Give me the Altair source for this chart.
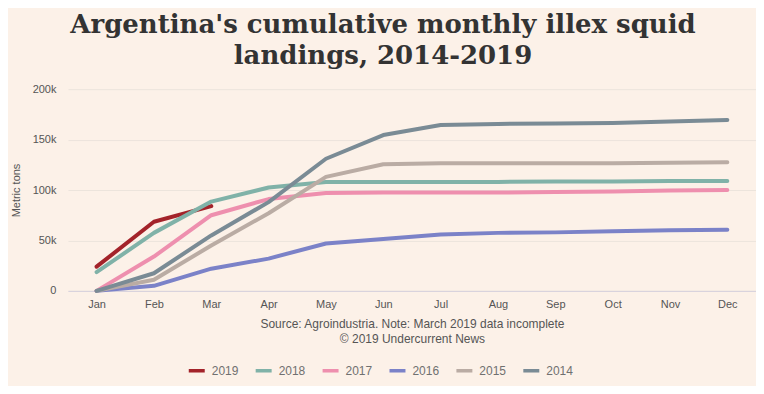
import altair as alt
import pandas as pd

months = ["Jan", "Feb", "Mar", "Apr", "May", "Jun", "Jul", "Aug", "Sep", "Oct", "Nov", "Dec"]
years = ["2019", "2018", "2017", "2016", "2015", "2014"]
colors = ["#A3232A", "#80B2A8", "#EE8FAE", "#7B82C8", "#BAACA4", "#7A8B95"]

s2019 = [24000, 68500, 84000]
s2018 = [18500, 57500, 88500, 102500, 108000, 108000, 108000, 108000, 108500, 108500, 109000, 109000]
s2017 = [0, 34000, 75000, 91000, 97000, 97500, 97500, 97500, 98000, 98500, 99500, 100000]
s2016 = [0, 5000, 22000, 32000, 47000, 51500, 56000, 57500, 58000, 59000, 60000, 60500]
s2015 = [0, 11000, 45000, 77000, 113000, 125500, 126500, 126500, 126500, 126500, 127000, 127500]
s2014 = [0, 17500, 55000, 88000, 131000, 154500, 164500, 165500, 166000, 166500, 168000, 169500]

series = {"2019": s2019, "2018": s2018, "2017": s2017, "2016": s2016, "2015": s2015, "2014": s2014}
rows = []
for y, vals in series.items():
    for i, v in enumerate(vals):
        rows.append({"month": months[i], "year": y, "value": v, "ord": years.index(y)})
df = pd.DataFrame(rows)

chart = alt.Chart(df).mark_line(strokeWidth=4, strokeCap="round", strokeJoin="round").encode(
    x=alt.X("month:N", sort=months,
            scale=alt.Scale(type="point", padding=0.5),
            axis=alt.Axis(title=["Source: Agroindustria. Note: March 2019 data incomplete",
                                 "© 2019 Undercurrent News"],
                          titleFont="Liberation Sans", titleFontSize=12, titleFontWeight="normal",
                          titleColor="#555555", titlePadding=9, titleLineHeight=15,
                          labelFont="Liberation Sans", labelFontSize=11, labelColor="#555555",
                          labelAngle=0, labelPadding=8, ticks=False, domain=True,
                          domainColor="#d6d0dc", grid=False)),
    y=alt.Y("value:Q", scale=alt.Scale(domain=[0, 200000]),
            axis=alt.Axis(title="Metric tons", values=[0, 50000, 100000, 150000, 200000],
                          labelExpr="datum.value == 0 ? '0' : format(datum.value / 1000, 'd') + 'k'",
                          titleFont="Liberation Sans", titleFontSize=11, titleFontWeight="normal",
                          titleColor="#555555", titlePadding=11,
                          labelFont="Liberation Sans", labelFontSize=11, labelColor="#555555",
                          labelPadding=12, ticks=False, domain=False,
                          gridColor="#ece4dc", gridWidth=1)),
    color=alt.Color("year:N", scale=alt.Scale(domain=years, range=colors),
                    legend=alt.Legend(title=None, orient="none", direction="horizontal",
                                      legendX=119, legendY=272,
                                      symbolType="stroke", symbolSize=256, symbolStrokeWidth=3.5,
                                      labelFont="Liberation Sans", labelFontSize=12, labelColor="#707070",
                                      columnPadding=10, labelOffset=5)),
    order=alt.Order("ord:Q", sort="descending"),
).properties(
    width=689, height=202,
    autosize=alt.AutoSizeParams(type="none"),
    padding={"left": 60, "top": 81, "right": 0, "bottom": 95},
    background="#FCF1E8",
    title=alt.TitleParams(["Argentina's cumulative monthly illex squid", "landings, 2014-2019"],
                          font="DejaVu Serif", fontSize=26, fontWeight="bold", color="#333333",
                          anchor="middle", dx=-29, offset=14, lineHeight=31),
).configure_view(stroke=None)

chart.save("out.html", embed_options={"renderer": "svg", "actions": False})
